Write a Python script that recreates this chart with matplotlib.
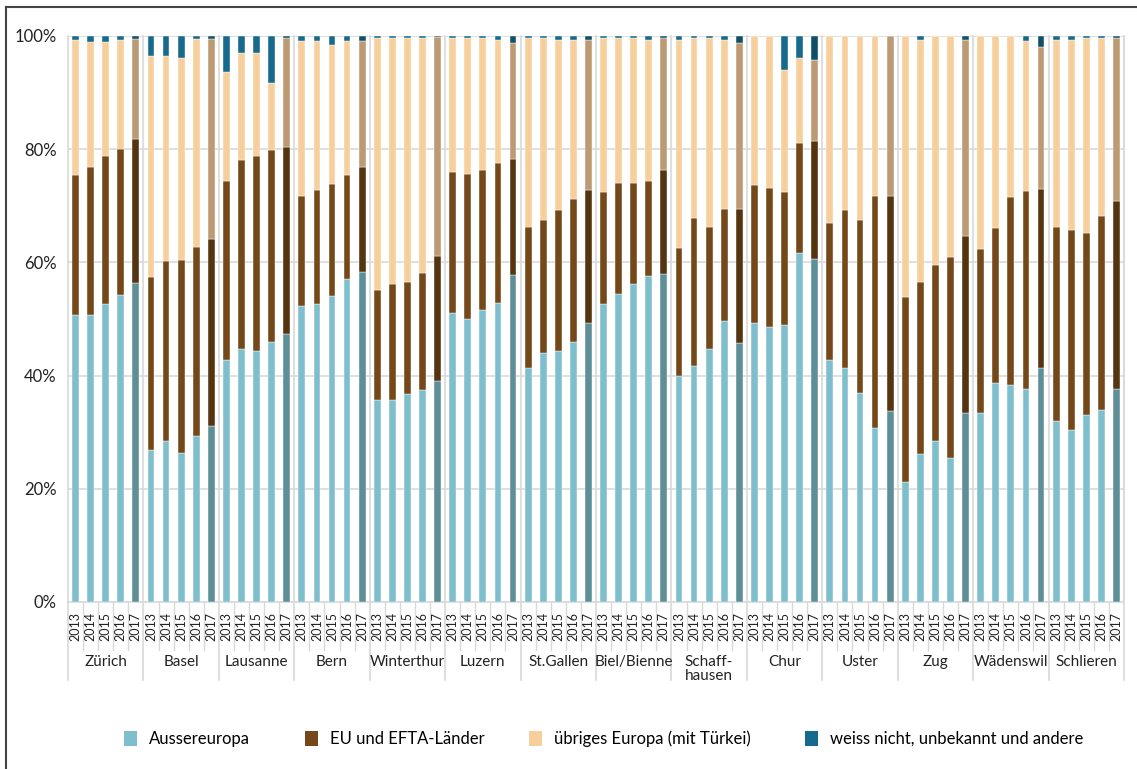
import numpy as np
import matplotlib.pyplot as plt
import matplotlib.transforms as mtransforms
from matplotlib.patches import Patch
from matplotlib.lines import Line2D

plt.rcParams['font.family'] = ['Lato', 'DejaVu Sans']

cities = ["Zürich", "Basel", "Lausanne", "Bern", "Winterthur", "Luzern", "St.Gallen",
          "Biel/Bienne", "Schaff-\nhausen", "Chur", "Uster", "Zug", "Wädenswil", "Schlieren"]
years = ["2013", "2014", "2015", "2016", "2017"]

# shares in %, per city 2013..2017
ausser = [50.7, 50.7, 52.6, 54.2, 56.3,
          26.8, 28.4, 26.4, 29.4, 31.1,
          42.7, 44.7, 44.3, 46.0, 47.3,
          52.3, 52.6, 54.0, 57.1, 58.3,
          35.7, 35.7, 36.7, 37.4, 39.0,
          51.0, 50.0, 51.6, 52.9, 57.7,
          41.3, 44.0, 44.3, 45.9, 49.3,
          52.6, 54.5, 56.2, 57.6, 57.9,
          40.0, 41.7, 44.7, 49.6, 45.7,
          49.3, 48.6, 48.9, 61.6, 60.6,
          42.7, 41.3, 37.0, 30.7, 33.7,
          21.2, 26.1, 28.4, 25.4, 33.4,
          33.4, 38.7, 38.3, 37.7, 41.3,
          32.0, 30.4, 33.0, 34.0, 37.7]
eu = [24.7, 26.1, 26.2, 25.9, 25.5,
      30.7, 31.8, 34.1, 33.4, 33.0,
      31.7, 33.4, 34.5, 33.8, 33.1,
      19.5, 20.2, 19.8, 18.3, 18.5,
      19.5, 20.5, 19.8, 20.8, 22.2,
      24.9, 25.6, 24.7, 24.7, 20.5,
      24.9, 23.5, 24.9, 25.3, 23.5,
      19.9, 19.6, 17.9, 16.8, 18.4,
      22.6, 26.2, 21.5, 19.9, 23.8,
      24.4, 24.5, 23.5, 19.5, 20.8,
      24.2, 27.9, 30.5, 41.1, 38.1,
      32.7, 30.4, 31.2, 35.5, 31.2,
      28.9, 27.3, 33.3, 34.9, 31.6,
      34.2, 35.4, 32.2, 34.2, 33.2]
uebrig = [23.9, 22.2, 20.2, 19.2, 17.6,
          38.9, 36.2, 35.6, 36.6, 35.3,
          19.3, 18.9, 18.2, 11.9, 19.3,
          27.3, 26.3, 24.6, 23.7, 22.3,
          44.5, 43.5, 43.2, 41.5, 38.6,
          23.8, 24.1, 23.4, 21.7, 20.5,
          33.5, 32.2, 30.1, 28.1, 26.5,
          27.2, 25.6, 25.6, 24.9, 23.4,
          36.7, 31.8, 33.5, 29.8, 29.2,
          26.3, 26.9, 21.6, 15.0, 14.3,
          33.1, 30.8, 32.5, 28.2, 28.2,
          46.1, 42.8, 40.4, 39.1, 34.7,
          37.7, 34.0, 28.4, 26.5, 25.1,
          33.1, 33.5, 34.5, 31.5, 28.8]
weiss = [0.7, 1.0, 1.0, 0.7, 0.6,
         3.6, 3.6, 3.9, 0.6, 0.6,
         6.3, 3.0, 3.0, 8.3, 0.3,
         0.9, 0.9, 1.6, 0.9, 0.9,
         0.3, 0.3, 0.3, 0.3, 0.2,
         0.3, 0.3, 0.3, 0.7, 1.3,
         0.3, 0.3, 0.7, 0.7, 0.7,
         0.3, 0.3, 0.3, 0.7, 0.3,
         0.7, 0.3, 0.3, 0.7, 1.3,
         0.0, 0.0, 6.0, 3.9, 4.3,
         0.0, 0.0, 0.0, 0.0, 0.0,
         0.0, 0.7, 0.0, 0.0, 0.7,
         0.0, 0.0, 0.0, 0.9, 2.0,
         0.7, 0.7, 0.3, 0.3, 0.3]

labels = ["Aussereuropa", "EU und EFTA-Länder", "übriges Europa (mit Türkei)",
          "weiss nicht, unbekannt und andere"]
colors = ["#7fbfcd", "#744819", "#f7cf9d", "#166a8c"]
colors_2017 = ["#5e8e98", "#553410", "#bb9a74", "#114f69"]

n_years = len(years)
x = np.arange(len(cities) * n_years)
is_last = (x % n_years) == n_years - 1

fig = plt.figure(figsize=(11.37, 7.69), dpi=100)
ax = fig.add_axes([68 / 1137, 1 - 602 / 769, (1124 - 68) / 1137, (602 - 36) / 769])

bottom = np.zeros(len(x))
for vals, c, c17 in zip([ausser, eu, uebrig, weiss], colors, colors_2017):
    vals = np.array(vals)
    cols = [c17 if last else c for last in is_last]
    ax.bar(x, vals, 0.45, bottom=bottom, color=cols, edgecolor="white",
           linewidth=0.3, zorder=3)
    bottom += vals

ax.set_xlim(-0.5, len(x) - 0.5)
ax.set_ylim(0, 100)
ax.set_yticks(np.arange(0, 101, 20))
ax.set_yticklabels([f"{v}%" for v in range(0, 101, 20)], fontsize=12, color="#222222")
ax.tick_params(axis="y", length=0, pad=8)
ax.tick_params(axis="x", length=0)
ax.set_xticks([])
ax.grid(axis="y", color="#d9d9d9", linewidth=1.2, zorder=0)
for s in ["top", "left"]:
    ax.spines[s].set_visible(False)
ax.spines["bottom"].set_color("#d9d9d9")
ax.spines["right"].set_color("#d9d9d9")
ax.spines["bottom"].set_linewidth(1.2)
ax.spines["right"].set_linewidth(1.2)

trans = mtransforms.blended_transform_factory(ax.transData, ax.transAxes)
sep_color = "#d9d9d9"
for b in range(len(x) + 1):
    xb = b - 0.5
    if b % n_years == 0:
        ax.plot([xb, xb], [1, -0.138], transform=trans, color=sep_color,
                linewidth=1.2, clip_on=False, zorder=1)
    else:
        ax.plot([xb, xb], [0, -0.085], transform=trans, color=sep_color,
                linewidth=1.0, clip_on=False, zorder=1)

for i in x:
    ax.text(i, -0.017, years[i % n_years], transform=trans, rotation=90,
            ha="center", va="top", fontsize=9, color="#222222")
for k, city in enumerate(cities):
    ax.text(k * n_years + 2, -0.094, city, transform=trans, ha="center", va="top",
            fontsize=11, color="#222222", linespacing=1.0)

# legend entries placed one by one along the bottom
legend_x = [124, 305, 529, 805]
for lab, c, lx in zip(labels, colors, legend_x):
    fig.legend([Patch(facecolor=c, edgecolor="none")], [lab], loc="center left",
               bbox_to_anchor=(lx / 1137, 1 - 739 / 769), frameon=False, fontsize=12,
               handlelength=0.8, handleheight=1.0, handletextpad=0.7,
               borderpad=0, borderaxespad=0)

# outer frame on the left and top
fig.add_artist(Line2D([6 / 1137, 6 / 1137], [0, 1 - 7 / 769], transform=fig.transFigure,
                      color="#444444", linewidth=1.5))
fig.add_artist(Line2D([6 / 1137, 1], [1 - 7 / 769, 1 - 7 / 769], transform=fig.transFigure,
                      color="#444444", linewidth=1.5))

fig.savefig("out.png", dpi=100)
